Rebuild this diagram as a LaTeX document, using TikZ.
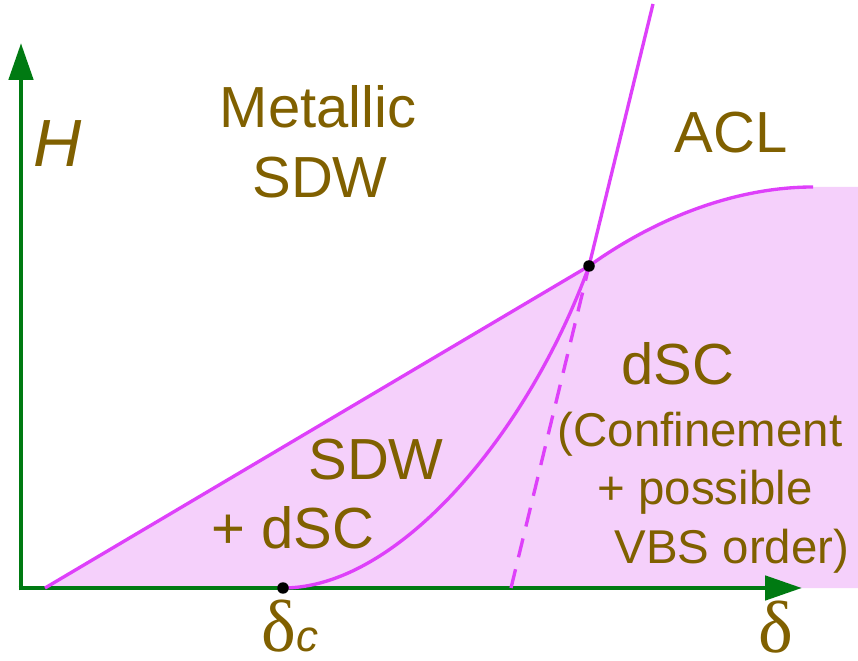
\documentclass[tikz,border=0pt]{standalone}
\usepackage{fontspec}
\setmainfont{Liberation Sans}
\newfontfamily\greekfont{Liberation Serif}
\usetikzlibrary{arrows.meta}
\definecolor{axisgreen}{RGB}{0,122,18}
\definecolor{phaseline}{RGB}{222,64,250}
\definecolor{phasefill}{RGB}{245,208,251}
\definecolor{labelbrown}{RGB}{128,96,0}

\begin{document}
\begin{tikzpicture}[x=0.02cm, y=-0.02cm,
    axis/.style={line width=2.8pt, draw=axisgreen, -{Triangle[length=21pt, width=13.6pt]}},
    bdry/.style={line width=1.9pt, draw=phaseline},
    lbl/.style={anchor=base, inner sep=0pt, text=labelbrown, font=\fontsize{33}{40}\selectfont},
    small/.style={lbl, font=\fontsize{27}{32}\selectfont},
    dot/.style={circle, fill=black, inner sep=0pt, minimum size=0.23cm}
]
\useasboundingbox (0,0) rectangle (858,661);

\coordinate (orig) at (21,588);
\coordinate (htip) at (21,43);
\coordinate (dtip) at (802,588);
\coordinate (lo) at (45,588);
\coordinate (mc) at (589,266);
\coordinate (dcrit) at (283,588);
\coordinate (flat) at (813,187);
\coordinate (up) at (653,4);
\coordinate (dsh) at (511,588);

\fill[phasefill] (lo) -- (mc) .. controls (660,215) and (740,187) .. (flat)
    -- (858,187) -- (858,588) -- cycle;

\draw[axis] ([yshift=-1.4pt]orig) -- (htip);
\draw[axis] ([xshift=-1.4pt]orig) -- (dtip);

\draw[bdry] (lo) -- (mc);
\draw[bdry] (mc) .. controls (660,215) and (740,187) .. (flat);
\draw[bdry] (dcrit) .. controls (400,588) and (530,430) .. (mc) -- (up);
\draw[bdry, dash pattern=on 11pt off 7pt] (dsh) -- (mc);

\node[dot] (mcdot) at (mc) {};
\node[dot] (dcdot) at (dcrit) {};

\node[lbl] (metal) at (318,128) {Metallic};
\node[lbl] (sdwtop) at (320,198) {SDW};
\node[lbl] (acl) at (731,153) {ACL};
\node[lbl] (dsc) at (678,385) {dSC};
\node[small] (conf) at (700,447) {(Confinement};
\node[small] (poss) at (705,505) {+ possible};
\node[small] (vbs) at (732,563) {VBS order)};
\node[lbl] (sdw) at (376,480) {SDW};
\node[lbl] (pdsc) at (293,548) {+ dSC};
\node[lbl, font=\fontsize{38}{44}\selectfont\itshape] (hlab) at (58,167) {H};
\node[lbl] (dclab) at (290,651) {{\greekfont\fontsize{42}{48}\selectfont δ}{\fontsize{25}{30}\selectfont\itshape c}};
\node[lbl] (dlab) at (776,652) {\greekfont\fontsize{42}{48}\selectfont δ};
\end{tikzpicture}
\end{document}
